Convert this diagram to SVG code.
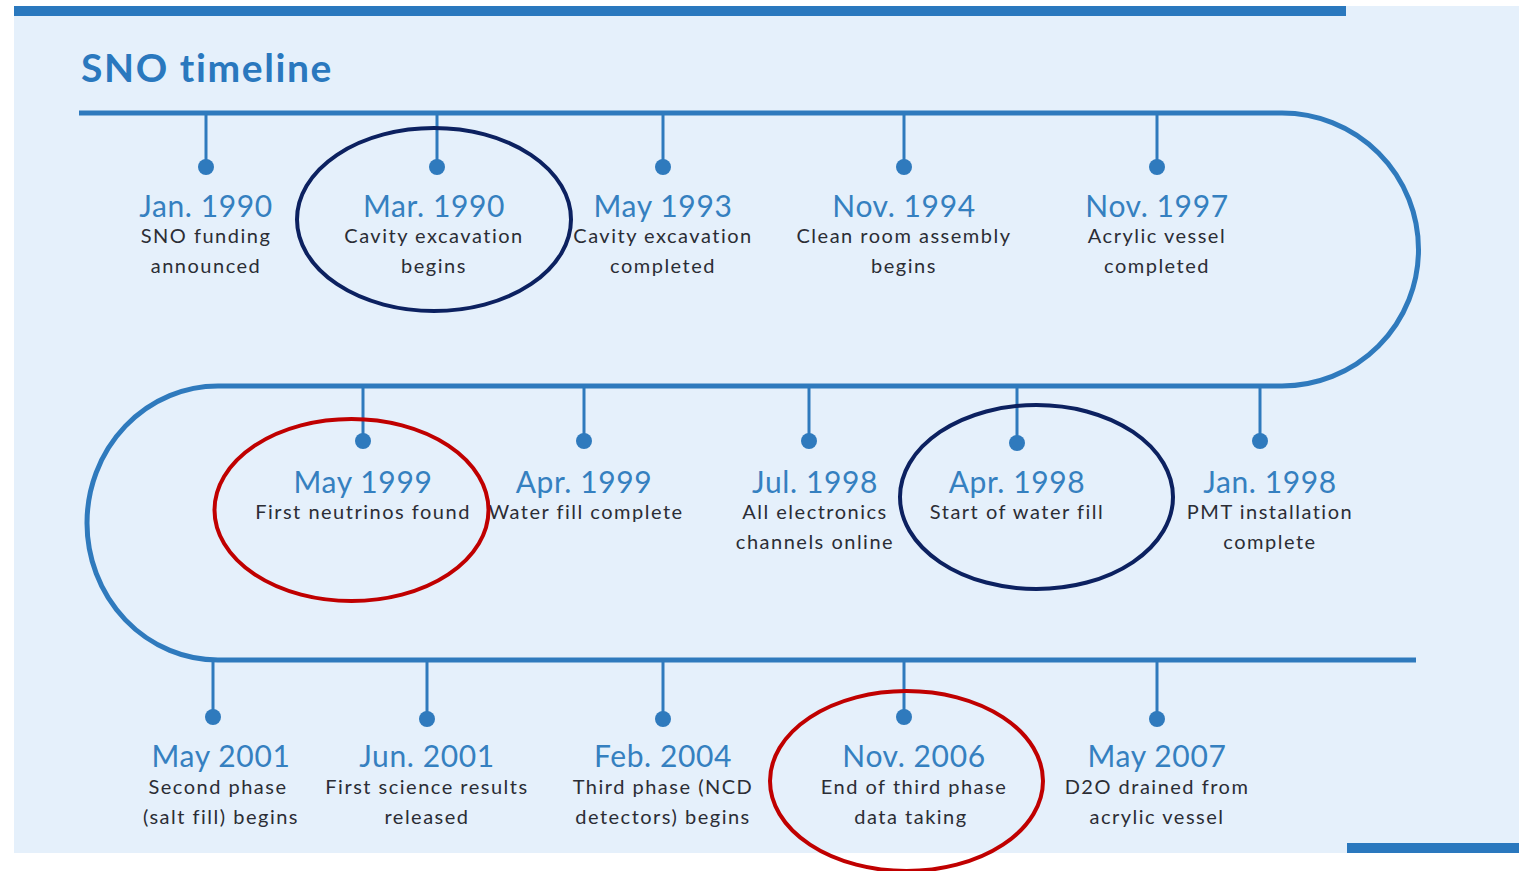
<svg xmlns="http://www.w3.org/2000/svg" width="1519" height="871" viewBox="0 0 1519 871">
<style>
.bg{fill:#e5f0fb}
.bar{fill:#2a78be}
.line{fill:none;stroke:#2f7abd;stroke-width:5}
.tick{stroke:#2f7abd;stroke-width:3}
.dot{fill:#2f7abd}
.date{font-family:"Lato","Open Sans",sans-serif;font-size:30px;fill:#3580c0;text-anchor:middle;letter-spacing:0.6px}
.desc{font-family:"Lato","Open Sans",sans-serif;font-size:20px;fill:#2b2d35;text-anchor:middle;letter-spacing:1.5px}
.title{font-family:"Lato","Open Sans",sans-serif;font-size:39px;font-weight:bold;fill:#2a78be;letter-spacing:1.6px}
.navy{fill:none;stroke:#0c2160;stroke-width:4}
.red{fill:none;stroke:#c00000;stroke-width:4}
</style>
<rect class="bg" x="14" y="6" width="1505" height="847"/>
<rect class="bar" x="14" y="6" width="1332" height="10"/>
<rect class="bar" x="1347" y="843" width="172" height="10"/>
<text class="title" x="81" y="82">SNO timeline</text>
<g id="connectors">
<path class="line" d="M79 113 H1282 A136.5 136.5 0 0 1 1282 386 H218 A131 137 0 0 0 218 660 H1416"/>
</g>
<g id="e1"><line class="tick" x1="206" y1="113" x2="206" y2="167"/><circle class="dot" cx="206" cy="167" r="8"/><text class="date" x="206" y="217">Jan. 1990</text><text class="desc" x="206" y="243">SNO funding</text><text class="desc" x="206" y="273">announced</text></g>
<g id="e2"><line class="tick" x1="437" y1="113" x2="437" y2="167"/><circle class="dot" cx="437" cy="167" r="8"/><text class="date" x="434" y="217">Mar. 1990</text><text class="desc" x="434" y="243">Cavity excavation</text><text class="desc" x="434" y="273">begins</text></g>
<g id="e3"><line class="tick" x1="663" y1="113" x2="663" y2="167"/><circle class="dot" cx="663" cy="167" r="8"/><text class="date" x="663" y="217">May 1993</text><text class="desc" x="663" y="243">Cavity excavation</text><text class="desc" x="663" y="273">completed</text></g>
<g id="e4"><line class="tick" x1="904" y1="113" x2="904" y2="167"/><circle class="dot" cx="904" cy="167" r="8"/><text class="date" x="904" y="217">Nov. 1994</text><text class="desc" x="904" y="243">Clean room assembly</text><text class="desc" x="904" y="273">begins</text></g>
<g id="e5"><line class="tick" x1="1157" y1="113" x2="1157" y2="167"/><circle class="dot" cx="1157" cy="167" r="8"/><text class="date" x="1157" y="217">Nov. 1997</text><text class="desc" x="1157" y="243">Acrylic vessel</text><text class="desc" x="1157" y="273">completed</text></g>
<g id="e6"><line class="tick" x1="363" y1="386" x2="363" y2="441"/><circle class="dot" cx="363" cy="441" r="8"/><text class="date" x="363" y="493">May 1999</text><text class="desc" x="363" y="519">First neutrinos found</text></g>
<g id="e7"><line class="tick" x1="584" y1="386" x2="584" y2="441"/><circle class="dot" cx="584" cy="441" r="8"/><text class="date" x="584" y="493">Apr. 1999</text><text class="desc" x="586" y="519">Water fill complete</text></g>
<g id="e8"><line class="tick" x1="809" y1="386" x2="809" y2="441"/><circle class="dot" cx="809" cy="441" r="8"/><text class="date" x="815" y="493">Jul. 1998</text><text class="desc" x="815" y="519">All electronics</text><text class="desc" x="815" y="549">channels online</text></g>
<g id="e9"><line class="tick" x1="1017" y1="386" x2="1017" y2="443"/><circle class="dot" cx="1017" cy="443" r="8"/><text class="date" x="1017" y="493">Apr. 1998</text><text class="desc" x="1017" y="519">Start of water fill</text></g>
<g id="e10"><line class="tick" x1="1260" y1="386" x2="1260" y2="441"/><circle class="dot" cx="1260" cy="441" r="8"/><text class="date" x="1270" y="493">Jan. 1998</text><text class="desc" x="1270" y="519">PMT installation</text><text class="desc" x="1270" y="549">complete</text></g>
<g id="e11"><line class="tick" x1="213" y1="660" x2="213" y2="717"/><circle class="dot" cx="213" cy="717" r="8"/><text class="date" x="221" y="767">May 2001</text><text class="desc" x="218" y="794">Second phase</text><text class="desc" x="221" y="824">(salt fill) begins</text></g>
<g id="e12"><line class="tick" x1="427" y1="660" x2="427" y2="719"/><circle class="dot" cx="427" cy="719" r="8"/><text class="date" x="427" y="767">Jun. 2001</text><text class="desc" x="427" y="794">First science results</text><text class="desc" x="427" y="824">released</text></g>
<g id="e13"><line class="tick" x1="663" y1="660" x2="663" y2="719"/><circle class="dot" cx="663" cy="719" r="8"/><text class="date" x="663" y="767">Feb. 2004</text><text class="desc" x="663" y="794">Third phase (NCD</text><text class="desc" x="663" y="824">detectors) begins</text></g>
<g id="e14"><line class="tick" x1="904" y1="660" x2="904" y2="717"/><circle class="dot" cx="904" cy="717" r="8"/><text class="date" x="914" y="767">Nov. 2006</text><text class="desc" x="914" y="794">End of third phase</text><text class="desc" x="911" y="824">data taking</text></g>
<g id="e15"><line class="tick" x1="1157" y1="660" x2="1157" y2="719"/><circle class="dot" cx="1157" cy="719" r="8"/><text class="date" x="1157" y="767">May 2007</text><text class="desc" x="1157" y="794">D2O drained from</text><text class="desc" x="1157" y="824">acrylic vessel</text></g>
<g id="highlights">
<ellipse class="navy" cx="434" cy="219.5" rx="137" ry="91.5"/>
<ellipse class="navy" cx="1036.5" cy="497" rx="136.5" ry="92"/>
<ellipse class="red" cx="351.5" cy="510" rx="137" ry="91"/>
<ellipse class="red" cx="906.5" cy="781" rx="136.5" ry="90"/>
</g>
</svg>
